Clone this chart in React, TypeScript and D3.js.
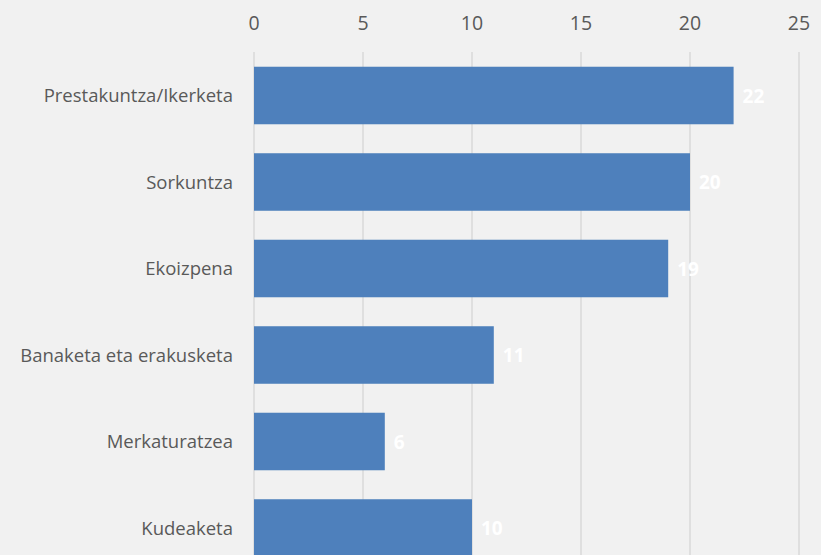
import React from "react";
import * as d3 from "d3";

const categories = [
  "Prestakuntza/Ikerketa",
  "Sorkuntza",
  "Ekoizpena",
  "Banaketa eta erakusketa",
  "Merkaturatzea",
  "Kudeaketa",
];
const values = [22, 20, 19, 11, 6, 10];
const ticks = [0, 5, 10, 15, 20, 25];

const W = 821;
const H = 555;

export default function App() {
  const x = d3.scaleLinear().domain([0, 25]).range([254, 799]);
  const y = d3
    .scaleBand<string>()
    .domain(categories)
    .range([52.25, 52.25 + 86.5 * 6])
    .paddingInner(0.335)
    .paddingOuter(0.1675);
  const font = "Open Sans, Liberation Sans, sans-serif";
  return (
    <div style={{ position: "fixed", left: 0, top: 0, width: W, height: H }}>
      <svg width={W} height={H} style={{ display: "block" }}>
        <rect x={0} y={0} width={W} height={H} fill="#f1f1f1" />
        {ticks.map((t) => (
          <g key={t}>
            <line x1={x(t)} x2={x(t)} y1={52} y2={H} stroke="#d9d9d9" strokeWidth={1.5} />
            <text
              x={x(t)}
              y={22}
              textAnchor="middle"
              dominantBaseline="central"
              fontFamily={font}
              fontSize={19.5}
              fill="#595959"
            >
              {t}
            </text>
          </g>
        ))}
        {categories.map((c, i) => {
          const by = y(c)!;
          const bh = y.bandwidth();
          return (
            <g key={c}>
              <rect x={x(0)} y={by} width={x(values[i]) - x(0)} height={bh} fill="#4e80bc" />
              <text
                x={233}
                y={by + bh / 2 - 1}
                textAnchor="end"
                dominantBaseline="central"
                fontFamily={font}
                fontSize={18.5}
                fill="#595959"
              >
                {c}
              </text>
              <text
                x={x(values[i]) + 9}
                y={by + bh / 2}
                textAnchor="start"
                dominantBaseline="central"
                fontFamily={font}
                fontSize={19}
                fontWeight="bold"
                fill="#ffffff"
              >
                {values[i]}
              </text>
            </g>
          );
        })}
      </svg>
    </div>
  );
}
